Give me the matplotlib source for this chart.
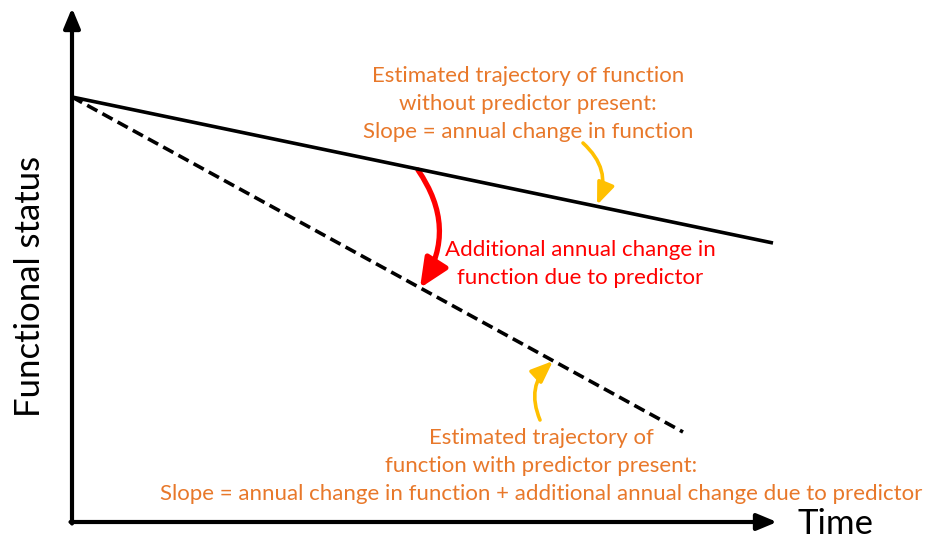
import numpy as np
import matplotlib.pyplot as plt
from matplotlib.patches import FancyArrowPatch

plt.rcParams['font.family'] = ['Lato', 'DejaVu Sans']

# diagram coordinates (pixel-like units, y grows downward)
origin = (72, 522)
x_axis_end = 777
y_axis_end = 8

time_no_pred = [72, 773]
status_no_pred = [97, 243]
time_pred = [72, 683]
status_pred = [97, 432]

orange = '#E8782A'
gold = '#FFC000'

fig = plt.figure(figsize=(9.36, 5.42), dpi=100)
ax = fig.add_axes([0, 0, 1, 1])
ax.set_xlim(0, 936)
ax.set_ylim(542, 0)
ax.axis('off')

# axes arrows
ax.annotate('', xy=(origin[0], y_axis_end), xytext=(origin[0], origin[1] + 1.5),
            arrowprops=dict(arrowstyle='-|>,head_length=1.2,head_width=0.5', lw=3, color='black',
                            shrinkA=0, shrinkB=0))
ax.annotate('', xy=(x_axis_end, origin[1]), xytext=(origin[0] - 1.5, origin[1]),
            arrowprops=dict(arrowstyle='-|>,head_length=1.2,head_width=0.5', lw=3, color='black',
                            shrinkA=0, shrinkB=0))

ax.plot(time_no_pred, status_no_pred, color='black', lw=2.6, solid_capstyle='butt')
ax.plot(time_pred, status_pred, color='black', lw=2.6, ls=(0, (3.2, 1.6)), dash_capstyle='butt')

# red curved arrow
a = FancyArrowPatch((418, 170), (420, 288), connectionstyle='arc3,rad=-0.33',
                    arrowstyle='-|>,head_length=8,head_width=3.6', lw=3.8, color='#FF0000',
                    shrinkA=0, shrinkB=0, mutation_scale=2.2)
ax.add_patch(a)

# orange pointer arrows
a1 = FancyArrowPatch((583, 143), (597, 205), connectionstyle='arc3,rad=-0.35',
                     arrowstyle='-|>,head_length=6,head_width=2.4', lw=2.6, color=gold,
                     shrinkA=0, shrinkB=0, mutation_scale=2.2)
ax.add_patch(a1)
a2 = FancyArrowPatch((540, 420), (553, 361), connectionstyle='arc3,rad=-0.35',
                     arrowstyle='-|>,head_length=6,head_width=2.4', lw=2.6, color=gold,
                     shrinkA=0, shrinkB=0, mutation_scale=2.2)
ax.add_patch(a2)

ax.text(528, 104, 'Estimated trajectory of function\nwithout predictor present:\nSlope = annual change in function',
        ha='center', va='center', color=orange, fontsize=16, linespacing=1.48)
ax.text(580, 264, 'Additional annual change in\nfunction due to predictor',
        ha='center', va='center', color='#FF0000', fontsize=16, linespacing=1.48)
ax.text(541, 466, 'Estimated trajectory of\nfunction with predictor present:\n'
        'Slope = annual change in function + additional annual change due to predictor',
        ha='center', va='center', color=orange, fontsize=16, linespacing=1.48)

ax.text(30, 286, 'Functional status', rotation=90, ha='center', va='center', fontsize=25)
ax.text(836, 524, 'Time', ha='center', va='center', fontsize=25)

fig.savefig('out.png', dpi=100)
